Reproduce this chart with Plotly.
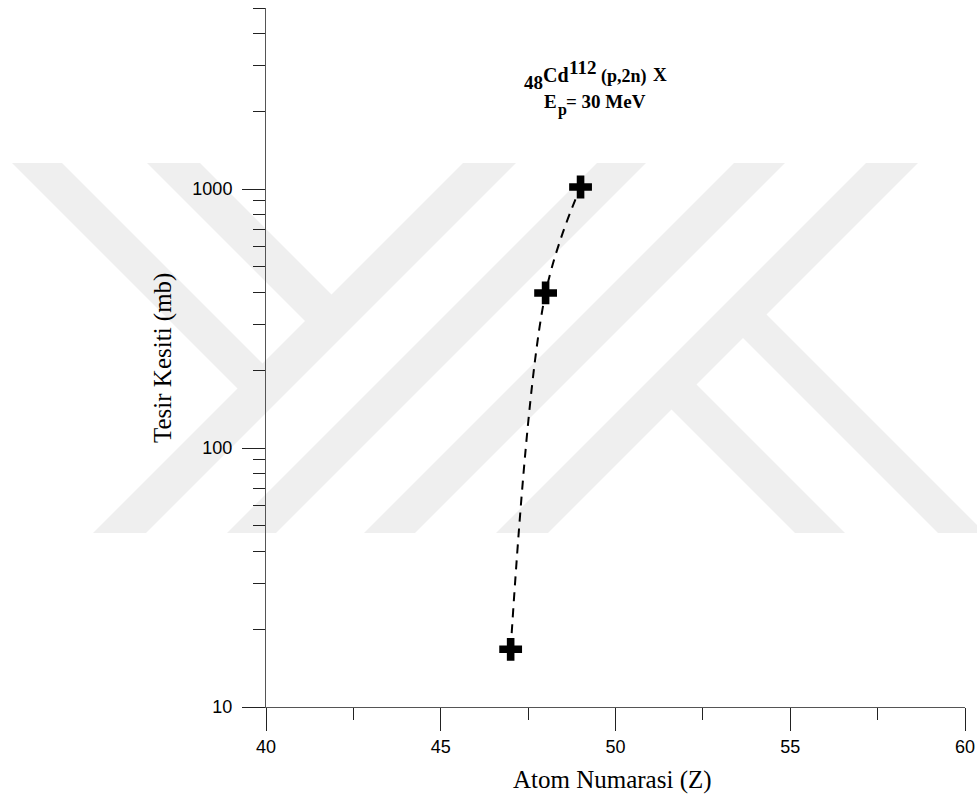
import plotly.graph_objects as go

# ---- data ----
atomic_numbers = [47, 48, 49]
cross_sections = [16.7, 397, 1018]

x_tick_vals = [40, 45, 50, 55, 60]
x_minor_vals = [42.5, 47.5, 52.5, 57.5]
y_tick_vals = [10, 100, 1000]
y_tick_text = ["10", "100", "1000"]
y_minor_vals = [20, 30, 40, 50, 60, 70, 80, 90,
                200, 300, 400, 500, 600, 700, 800, 900,
                2000, 3000, 4000, 5000]

x_title = "Atom Numarasi (Z)"
y_title = "Tesir Kesiti (mb)"
# reaction label pieces: (text, centre x px, centre y px, font size)
note_pieces = [
    ("48", 533, 83, 19),
    ("Cd", 556, 75, 20),
    ("112", 582, 67, 19),
    ("(p,2n)", 624, 76, 18),
    ("X", 660, 75, 19),
    ("E", 550, 102, 19),
    ("p", 562, 110, 16),
    ("= 30 MeV", 606, 102, 19),
]

# ---- layout geometry (pixels) ----
W, H = 977, 798
L, R, T, B = 266, 12, 8, 91
PW = W - L - R
PH = H - T - B


def px(x):
    return (x - L) / PW


def py(y):
    return (H - B - y) / PH


# ---- background watermark (decorative stripes) ----
WM_TOP, WM_BOT = 163, 533
slash_stripes = [(626, 679), (760, 809), (897, 948), (1029, 1081)]
back_top = [(-151, -101), (-16, 37)]      # end on first slash stripe
back_bottom = [(262, 312), (405, 452)]    # end on last slash stripe


def poly_path(pts):
    return "M " + " L ".join(f"{px(a):.5f},{py(b):.5f}" for a, b in pts) + " Z"


polys = []
for sl, sr in slash_stripes:
    polys.append([(sl - WM_BOT, WM_BOT), (sr - WM_BOT, WM_BOT), (sr - WM_TOP, WM_TOP), (sl - WM_TOP, WM_TOP)])
m1 = sum(slash_stripes[0]) / 2
for cl, cr in back_top:
    polys.append([(WM_TOP + cl, WM_TOP), (WM_TOP + cr, WM_TOP),
                  ((m1 + cr) / 2, (m1 - cr) / 2), ((m1 + cl) / 2, (m1 - cl) / 2)])
m2 = sum(slash_stripes[-1]) / 2
for cl, cr in back_bottom:
    polys.append([(WM_BOT + cl, WM_BOT), (WM_BOT + cr, WM_BOT),
                  ((m2 + cr) / 2, (m2 - cr) / 2), ((m2 + cl) / 2, (m2 - cl) / 2)])

shapes = [dict(type="path", path=poly_path(p), xref="paper", yref="paper",
               fillcolor="#efefef", line=dict(width=0), layer="below")
          for p in polys]

fig = go.Figure()
fig.add_trace(go.Scatter(
    x=atomic_numbers, y=cross_sections,
    mode="lines+markers",
    line=dict(color="black", width=2, dash="9px,7px", shape="spline"),
    marker=dict(symbol="cross", size=19, color="black", line=dict(width=0)),
    showlegend=False, hoverinfo="x+y",
))

axis_font = dict(family="Liberation Sans, Arial, sans-serif", size=18, color="black")
serif = "Liberation Serif, Times New Roman, serif"

annotations = [
    dict(text=x_title, xref="paper", yref="paper", x=px(612), y=py(780),
         showarrow=False, xanchor="center", yanchor="middle",
         font=dict(family=serif, size=25, color="black")),
    dict(text=y_title, xref="paper", yref="paper", x=px(163), y=py(358),
         showarrow=False, xanchor="center", yanchor="middle", textangle=-90,
         font=dict(family=serif, size=25, color="black")),
]
for txt, cx, cy, fs in note_pieces:
    annotations.append(dict(text=f"<b>{txt}</b>", xref="paper", yref="paper",
                            x=px(cx), y=py(cy), showarrow=False,
                            xanchor="center", yanchor="middle",
                            font=dict(family=serif, size=fs, color="black")))

fig.update_layout(
    width=W, height=H,
    margin=dict(l=L, r=R, t=T, b=B, pad=0, autoexpand=False),
    paper_bgcolor="rgba(0,0,0,0)", plot_bgcolor="rgba(0,0,0,0)",
    shapes=shapes,
    xaxis=dict(
        range=[40, 60], tickvals=x_tick_vals, ticks="outside", ticklen=23,
        tickcolor="#222", tickwidth=1, showline=True, linecolor="#555", linewidth=1,
        showgrid=False, zeroline=False, tickfont=axis_font, mirror=False, automargin=False,
        minor=dict(tickvals=x_minor_vals, ticks="outside", ticklen=12, tickcolor="#222",
                   tickwidth=1, showgrid=False),
    ),
    yaxis=dict(
        type="log", range=[1, 3.69897], tickvals=y_tick_vals, ticktext=y_tick_text,
        ticks="outside", ticklen=23, tickcolor="#222", tickwidth=1,
        showline=True, linecolor="#555", linewidth=1, showgrid=False, zeroline=False,
        tickfont=axis_font, mirror=False, ticklabelstandoff=6, automargin=False,
        minor=dict(tickvals=y_minor_vals, ticks="outside", ticklen=12, tickcolor="#222",
                   tickwidth=1, showgrid=False),
    ),
    annotations=annotations,
)

fig.write_html("out.html", config={"displayModeBar": False},
               post_script="document.body.style.margin='0';")
